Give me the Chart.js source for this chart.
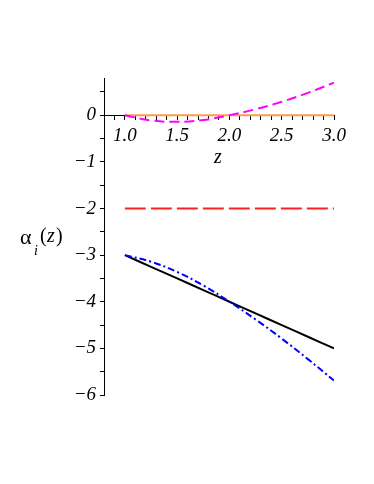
<!DOCTYPE html>
<html>
<head>
<meta charset="utf-8">
<script src="https://cdn.jsdelivr.net/npm/chart.js@4/dist/chart.umd.min.js"></script>
<style>
  body { margin: 0; background: #fff; }
  canvas { display: block; }
</style>
</head>
<body>
<canvas id="myChart" width="374" height="484"></canvas>
<script>
'use strict';

// ** DATA **

let zValues = [1.0, 1.25, 1.5, 1.75, 2.0, 2.25, 2.5, 2.75, 3.0];
let alphaBlack = [-3, -3.25, -3.5, -3.75, -4, -4.25, -4.5, -4.75, -5];
let alphaBlue = [-3, -3.14, -3.36, -3.65, -4.0, -4.38, -4.79, -5.23, -5.69];
let alphaRed = [-2, -2, -2, -2, -2, -2, -2, -2, -2];
let alphaOrange = [0, 0, 0, 0, 0, 0, 0, 0, 0];
let alphaMagenta = [0, -0.11, -0.14, -0.10, 0, 0.13, 0.29, 0.48, 0.70];

let xTickValues = [1.0, 1.5, 2.0, 2.5, 3.0];
let xTickLabels = ['1.0', '1.5', '2.0', '2.5', '3.0'];
let yTickValues = [0, -1, -2, -3, -4, -5, -6];
let yTickLabels = ['0', '\u22121', '\u22122', '\u22123', '\u22124', '\u22125', '\u22126'];

// ** HELPERS **

function toPoints(values) {
  let pts = [];
  for (let i = 0; i < zValues.length; i++) {
    pts.push({ x: zValues[i], y: values[i] });
  }
  return pts;
}

function lookupLabel(values, labels, v) {
  for (let i = 0; i < values.length; i++) {
    if (Math.abs(values[i] - v) < 1e-6) {
      return labels[i];
    }
  }
  return '';
}

function makeLine(values, color, dash) {
  return {
    data: toPoints(values),
    borderColor: color,
    borderWidth: 2,
    borderDash: dash,
    pointRadius: 0,
    tension: 0.4,
    fill: false
  };
}

// axis titles drawn in Maple style (horizontal label on the left)
const axisTitles = {
  id: 'axisTitles',
  afterDraw(chart) {
    let c = chart.ctx;
    c.save();
    c.fillStyle = '#000';
    c.textBaseline = 'alphabetic';
    c.textAlign = 'center';
    c.font = 'italic 20px "Liberation Serif"';
    c.fillText('z', 218, 163);

    c.textAlign = 'left';
    c.font = '22px "Liberation Serif"';
    c.fillText('\u03b1', 20, 244);
    c.font = 'italic 14px "Liberation Serif"';
    c.fillText('i', 34, 255);
    c.font = '20px "Liberation Serif"';
    c.fillText('(', 40, 242);
    c.font = 'italic 20px "Liberation Serif"';
    c.fillText('z', 47, 242);
    c.font = '20px "Liberation Serif"';
    c.fillText(')', 56, 242);
    c.restore();
  }
};

// ** CHART **

const ctx = document.getElementById('myChart');

let tickFont = { family: '"Liberation Serif"', size: 19, style: 'italic' };

new Chart(ctx, {
  type: 'line',
  data: {
    datasets: [
      makeLine(alphaMagenta, '#ff00ff', [10, 5]),
      makeLine(alphaBlue, '#0000ff', [7, 3, 2, 3]),
      makeLine(alphaBlack, '#000000', []),
      makeLine(alphaRed, '#ff2020', [21, 5]),
      makeLine(alphaOrange, '#ff9a4a', [])
    ]
  },
  options: {
    responsive: false,
    animation: false,
    layout: { padding: { left: 60, right: 40, top: 78, bottom: 89 } },
    plugins: { legend: { display: false }, tooltip: { enabled: false } },
    scales: {
      x: {
        type: 'linear',
        position: { y: 0 },
        min: 0.8,
        max: 3.0,
        afterFit(scale) { scale.height = 0; },
        border: { display: true, color: '#000', width: 1 },
        grid: { drawOnChartArea: false, drawTicks: true, tickLength: 4, color: '#000' },
        ticks: {
          stepSize: 0.1,
          autoSkip: false,
          maxRotation: 0,
          padding: 5,
          color: '#000',
          font: tickFont,
          callback: (v) => lookupLabel(xTickValues, xTickLabels, v)
        }
      },
      y: {
        type: 'linear',
        position: 'left',
        min: -6,
        max: 0.8,
        afterFit(scale) { scale.width = 44; },
        border: { display: true, color: '#000', width: 1 },
        grid: { drawOnChartArea: false, drawTicks: true, tickLength: 4, color: '#000' },
        ticks: {
          stepSize: 0.5,
          includeBounds: false,
          autoSkip: false,
          padding: 4,
          color: '#000',
          font: tickFont,
          callback: (v) => lookupLabel(yTickValues, yTickLabels, v)
        }
      }
    }
  },
  plugins: [axisTitles]
});
</script>
</body>
</html>
